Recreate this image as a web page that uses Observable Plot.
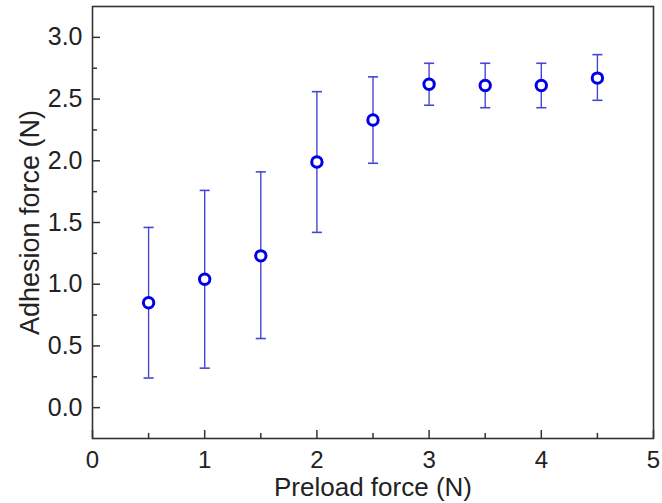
<!DOCTYPE html>
<html>
<head>
<meta charset="utf-8">
<script src="https://cdn.jsdelivr.net/npm/d3@7"></script>
<script src="https://cdn.jsdelivr.net/npm/@observablehq/plot@0.6"></script>
<style>
  html, body { margin: 0; padding: 0; background: #fff; }
</style>
</head>
<body>
<div id="chart"></div>
<script>
const preload = [0.5, 1, 1.5, 2, 2.5, 3, 3.5, 4, 4.5];
const adhesion = [0.85, 1.04, 1.23, 1.99, 2.33, 2.62, 2.61, 2.61, 2.67];
const lower = [0.24, 0.32, 0.56, 1.42, 1.98, 2.45, 2.43, 2.43, 2.49];
const upper = [1.46, 1.76, 1.91, 2.56, 2.68, 2.79, 2.79, 2.79, 2.86];

const xMajor = [0, 1, 2, 3, 4, 5];
const xMinor = [0.5, 1.5, 2.5, 3.5, 4.5];
const yMajor = [0, 0.5, 1.0, 1.5, 2.0, 2.5, 3.0];
const yMinor = [0.25, 0.75, 1.25, 1.75, 2.25, 2.75];

const xTitle = "Preload force (N)";
const yTitle = "Adhesion force (N)";

const data = preload.map((x, i) => ({x, y: adhesion[i], lo: lower[i], hi: upper[i]}));
const capHalf = 0.045;

const W = 662, H = 503;
const mL = 92, mR = 9, mT = 6, mB = 65;
const innerH = H - mT - mB;
const innerW = W - mL - mR;

const axisColor = "#333";
const textColor = "#222";
const barColor = "#4646d6";
const dotColor = "#0000e6";

const chart = Plot.plot({
  width: W,
  height: H,
  marginLeft: mL,
  marginRight: mR,
  marginTop: mT,
  marginBottom: mB,
  style: {fontFamily: "'Liberation Sans', Arial, sans-serif", background: "#fff", color: textColor},
  x: {domain: [0, 5]},
  y: {domain: [-0.25, 3.25]},
  marks: [
    // inward major/minor ticks
    Plot.tickX(xMajor, {x: d => d, stroke: axisColor, strokeWidth: 1.5, insetTop: innerH - 8}),
    Plot.tickX(xMinor, {x: d => d, stroke: axisColor, strokeWidth: 1.5, insetTop: innerH - 5}),
    Plot.tickY(yMajor, {y: d => d, stroke: axisColor, strokeWidth: 1.5, insetRight: innerW - 8}),
    Plot.tickY(yMinor, {y: d => d, stroke: axisColor, strokeWidth: 1.5, insetRight: innerW - 5}),
    Plot.frame({stroke: axisColor, strokeWidth: 1.6}),
    Plot.axisX({ticks: xMajor, tickSize: 0, tickPadding: 12, fontSize: 24, label: null, tickFormat: d3.format("d"), fill: textColor}),
    Plot.axisY({ticks: yMajor, tickSize: 0, tickPadding: 10, fontSize: 25, label: null, tickFormat: d3.format(".1f"), fill: textColor}),
    Plot.text([xTitle], {frameAnchor: "bottom", dy: 49, fontSize: 26, lineAnchor: "middle", textAnchor: "middle", fill: textColor}),
    Plot.text([yTitle], {frameAnchor: "left", dx: -62, rotate: -90, fontSize: 27, textAnchor: "middle", lineAnchor: "middle", fill: textColor}),
    // error bars
    Plot.ruleX(data, {x: "x", y1: "lo", y2: "hi", stroke: barColor, strokeWidth: 1.4}),
    Plot.link(data, {x1: d => d.x - capHalf, x2: d => d.x + capHalf, y1: "lo", y2: "lo", stroke: barColor, strokeWidth: 1.6}),
    Plot.link(data, {x1: d => d.x - capHalf, x2: d => d.x + capHalf, y1: "hi", y2: "hi", stroke: barColor, strokeWidth: 1.6}),
    // points
    Plot.dot(data, {x: "x", y: "y", r: 5.2, stroke: dotColor, strokeWidth: 3, fill: "#fff"})
  ]
});
document.getElementById("chart").appendChild(chart);
</script>
</body>
</html>
